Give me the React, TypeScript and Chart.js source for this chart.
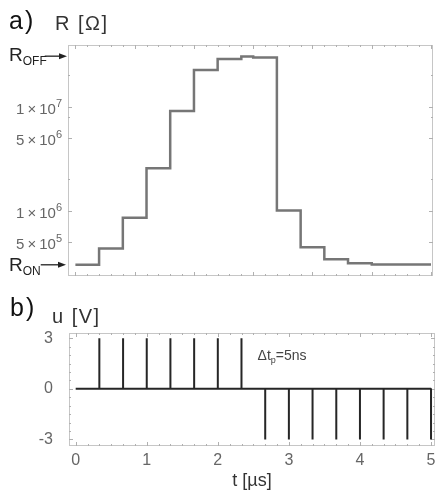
import React, { useEffect, useRef } from "react";
import { Chart, registerables } from "chart.js";

Chart.register(...registerables);

const FONT = "'Liberation Sans', Arial, Helvetica, sans-serif";
const FRAME = "#c6c6c6";
const TICK = "#b0b0b0";
const LABEL = "#666666";

// ---- Panel a) : resistance (log scale), stepped ----
const stepTimes = [0, 0.333, 0.667, 1.0, 1.333, 1.667, 2.0, 2.333, 2.5, 2.833, 3.167, 3.5, 3.833, 4.167, 5.0];
const resistance = [3.0e5, 4.3e5, 8.5e5, 2.55e6, 9.1e6, 2.26e7, 2.88e7, 3.05e7, 2.98e7, 1.0e6, 4.43e5, 3.4e5, 3.11e5, 3.02e5, 3.02e5];
const R_ON = 3.0e5;
const R_OFF = 3.0e7;
const rTickValues = [5e5, 1e6, 5e6, 1e7];
const rTickMantissa = ["5", "1", "5", "1"];
const rTickExponent = ["5", "6", "6", "7"];
const rMinorTicks = [2e6, 8e6, 2e7];

// ---- Panel b) : voltage pulses ----
const pulseTimes = [0.333, 0.667, 1.0, 1.333, 1.667, 2.0, 2.333, 2.667, 3.0, 3.333, 3.667, 4.0, 4.333, 4.667, 5.0];
const pulseVolts = [3, 3, 3, 3, 3, 3, 3, -3, -3, -3, -3, -3, -3, -3, -3];
const timeTicks = [0, 1, 2, 3, 4, 5];
const timeTickLabels = ["0", "1", "2", "3", "4", "5"];
const voltTicks = [-3, 0, 3];
const voltTickLabels = ["-3", "0", "3"];
const pulseNoteAt = { t: 2.56, u: 2.0 };

function line(ctx: CanvasRenderingContext2D, x1: number, y1: number, x2: number, y2: number) {
  ctx.beginPath();
  ctx.moveTo(x1, y1);
  ctx.lineTo(x2, y2);
  ctx.stroke();
}

function drawFrame(ctx: CanvasRenderingContext2D, a: any) {
  ctx.strokeStyle = FRAME;
  ctx.lineWidth = 1;
  ctx.strokeRect(a.left + 0.5, a.top + 0.5, a.right - a.left - 1, a.bottom - a.top - 1);
}

function xTick(ctx: CanvasRenderingContext2D, a: any, px: number, len: number) {
  const X = Math.round(px) + 0.5;
  ctx.strokeStyle = TICK;
  ctx.lineWidth = 1;
  line(ctx, X, a.bottom, X, a.bottom - len);
  line(ctx, X, a.top, X, a.top + len);
}

function yTick(ctx: CanvasRenderingContext2D, a: any, py: number, len: number) {
  const Y = Math.round(py) + 0.5;
  ctx.strokeStyle = TICK;
  ctx.lineWidth = 1;
  line(ctx, a.left, Y, a.left + len, Y);
  line(ctx, a.right, Y, a.right - len, Y);
}

function arrow(ctx: CanvasRenderingContext2D, x1: number, x2: number, y: number) {
  ctx.strokeStyle = "#222";
  ctx.fillStyle = "#222";
  ctx.lineWidth = 1.3;
  line(ctx, x1, y, x2 - 6, y);
  ctx.beginPath();
  ctx.moveTo(x2, y);
  ctx.lineTo(x2 - 8, y - 3);
  ctx.lineTo(x2 - 8, y + 3);
  ctx.closePath();
  ctx.fill();
}

function subText(ctx: CanvasRenderingContext2D, main: string, sub: string, x: number, y: number, mainSize: number, subSize: number, color: string) {
  ctx.fillStyle = color;
  ctx.textBaseline = "alphabetic";
  ctx.textAlign = "left";
  ctx.font = `${mainSize}px ${FONT}`;
  ctx.fillText(main, x, y);
  const w = ctx.measureText(main).width;
  ctx.font = `${subSize}px ${FONT}`;
  ctx.fillText(sub, x + w, y + subSize * 0.35);
  return x + w + ctx.measureText(sub).width;
}

function spaced(ctx: any, text: string, x: number, y: number, spacing: number) {
  ctx.letterSpacing = `${spacing}px`;
  ctx.fillText(text, x, y);
  ctx.letterSpacing = "0px";
}

const topDecor = {
  id: "topDecor",
  beforeDatasetsDraw(chart: any) {
    const { ctx, chartArea: a, scales } = chart;
    const x = scales.x;
    const y = scales.y;
    ctx.save();
    drawFrame(ctx, a);
    for (let i = 0; i <= 30; i++) {
      xTick(ctx, a, x.getPixelForValue(i / 6), i % 5 === 0 ? 4 : 2);
    }
    rTickValues.forEach((v) => yTick(ctx, a, y.getPixelForValue(v), 4));
    rMinorTicks.forEach((v) => yTick(ctx, a, y.getPixelForValue(v), 2));
    ctx.restore();
  },
  afterDraw(chart: any) {
    const { ctx, chartArea: a, scales } = chart;
    const y = scales.y;
    ctx.save();
    // tick labels with superscript exponent
    rTickValues.forEach((v, i) => {
      const py = y.getPixelForValue(v);
      const right = a.left - 6;
      ctx.fillStyle = LABEL;
      ctx.textAlign = "left";
      ctx.textBaseline = "alphabetic";
      ctx.font = `11px ${FONT}`;
      const ew = ctx.measureText(rTickExponent[i]).width;
      ctx.fillText(rTickExponent[i], right - ew, py + 0.5);
      ctx.font = `15px ${FONT}`;
      const main = `${rTickMantissa[i]}\u2009\u00d7\u200910`;
      const mw = ctx.measureText(main).width;
      ctx.fillText(main, right - ew - mw, py + 7);
    });
    // R_OFF / R_ON markers
    const pOff = y.getPixelForValue(R_OFF);
    let end = subText(ctx, "R", "OFF", 9, pOff + 4, 19, 12, "#222");
    arrow(ctx, end - 2, a.left - 1, pOff - 1);
    const pOn = y.getPixelForValue(R_ON);
    end = subText(ctx, "R", "ON", 9, pOn + 6, 19, 12, "#222");
    arrow(ctx, end, a.left - 2, pOn);
    // panel label
    ctx.fillStyle = "#111";
    ctx.textAlign = "left";
    ctx.textBaseline = "alphabetic";
    ctx.font = `25px ${FONT}`;
    spaced(ctx, "a)", 9, 29, 2);
    ctx.fillStyle = "#333";
    ctx.font = `20px ${FONT}`;
    spaced(ctx, "R [\u03a9]", 55, 30, 1.5);
    ctx.restore();
  },
};

const botDecor = {
  id: "botDecor",
  beforeDatasetsDraw(chart: any) {
    const { ctx, chartArea: a, scales } = chart;
    const x = scales.x;
    const y = scales.y;
    ctx.save();
    drawFrame(ctx, a);
    for (let i = 0; i <= 30; i++) {
      xTick(ctx, a, x.getPixelForValue(i / 6), i % 6 === 0 ? 4 : 2);
    }
    for (let i = -6; i <= 6; i++) {
      yTick(ctx, a, y.getPixelForValue(i / 2), i % 6 === 0 ? 4 : 2);
    }
    ctx.restore();
  },
  afterDraw(chart: any) {
    const { ctx, scales } = chart;
    const x = scales.x;
    const y = scales.y;
    ctx.save();
    ctx.fillStyle = "#111";
    ctx.textAlign = "left";
    ctx.textBaseline = "alphabetic";
    ctx.font = `25px ${FONT}`;
    spaced(ctx, "b)", 10, 26, 2);
    ctx.fillStyle = "#333";
    ctx.font = `20px ${FONT}`;
    spaced(ctx, "u [V]", 52, 33, 1.5);
    // pulse width note
    const px = x.getPixelForValue(pulseNoteAt.t);
    const py = y.getPixelForValue(pulseNoteAt.u) + 5;
    const e = subText(ctx, "\u0394t", "p", px, py, 14, 9, "#444");
    ctx.font = `14px ${FONT}`;
    ctx.fillText("=5ns", e, py);
    ctx.restore();
  },
};

export default function App() {
  const topRef = useRef<HTMLCanvasElement>(null);
  const botRef = useRef<HTMLCanvasElement>(null);

  useEffect(() => {
    document.body.style.margin = "0";
    document.body.style.overflow = "hidden";

    const top = new Chart(topRef.current as HTMLCanvasElement, {
      type: "line",
      data: {
        datasets: [
          {
            data: stepTimes.map((t, i) => ({ x: t, y: resistance[i] })),
            stepped: "before",
            borderColor: "#767676",
            borderWidth: 2.5,
            pointRadius: 0,
            fill: false,
          },
        ],
      },
      options: {
        responsive: false,
        animation: false,
        devicePixelRatio: 1,
        layout: { padding: { left: 68, top: 45, right: 5, bottom: 14 } },
        plugins: { legend: { display: false }, tooltip: { enabled: false } },
        scales: {
          x: { type: "linear", display: false, min: -0.104, max: 5.028 },
          y: { type: "logarithmic", display: false, min: 2.34e5, max: 3.93e7 },
        },
      },
      plugins: [topDecor],
    } as any);

    const pulsePath: { x: number; y: number }[] = [{ x: 0, y: 0 }];
    pulseTimes.forEach((t, i) => {
      pulsePath.push({ x: t, y: 0 }, { x: t, y: pulseVolts[i] }, { x: t, y: 0 });
    });

    const bot = new Chart(botRef.current as HTMLCanvasElement, {
      type: "line",
      data: {
        datasets: [
          {
            data: pulsePath,
            borderColor: "#262626",
            borderWidth: 2,
            borderJoinStyle: "bevel",
            pointRadius: 0,
            tension: 0,
            fill: false,
          },
        ],
      },
      options: {
        responsive: false,
        animation: false,
        devicePixelRatio: 1,
        layout: { padding: { left: 0, top: 43, right: 3, bottom: 0 } },
        plugins: { legend: { display: false }, tooltip: { enabled: false } },
        scales: {
          x: {
            type: "linear",
            min: -0.094,
            max: 5.056,
            grid: { display: false },
            border: { display: false },
            afterBuildTicks: (s: any) => {
              s.ticks = timeTicks.map((v) => ({ value: v }));
            },
            afterFit: (s: any) => {
              s.height = 46;
            },
            ticks: {
              padding: -3,
              color: LABEL,
              font: { family: FONT, size: 16 },
              maxRotation: 0,
              callback: (v: any) => timeTickLabels[timeTicks.indexOf(Number(v))] ?? "",
            },
            title: {
              display: true,
              text: "t [\u00b5s]",
              color: "#333",
              font: { family: FONT, size: 18 },
              padding: { top: 0, bottom: 0 },
            },
          },
          y: {
            type: "linear",
            min: -3.39,
            max: 3.31,
            grid: { display: false },
            border: { display: false },
            afterBuildTicks: (s: any) => {
              s.ticks = voltTicks.map((v) => ({ value: v }));
            },
            afterFit: (s: any) => {
              s.width = 69;
            },
            ticks: {
              padding: 8,
              color: LABEL,
              font: { family: FONT, size: 16 },
              callback: (v: any) => voltTickLabels[voltTicks.indexOf(Number(v))] ?? "",
            },
          },
        },
      },
      plugins: [botDecor],
    } as any);

    return () => {
      top.destroy();
      bot.destroy();
    };
  }, []);

  return (
    <div style={{ position: "relative", width: 438, height: 492, background: "#fff", overflow: "hidden" }}>
      <canvas ref={topRef} width={438} height={290} style={{ position: "absolute", left: 0, top: 0 }} />
      <canvas ref={botRef} width={438} height={202} style={{ position: "absolute", left: 0, top: 290 }} />
    </div>
  );
}
